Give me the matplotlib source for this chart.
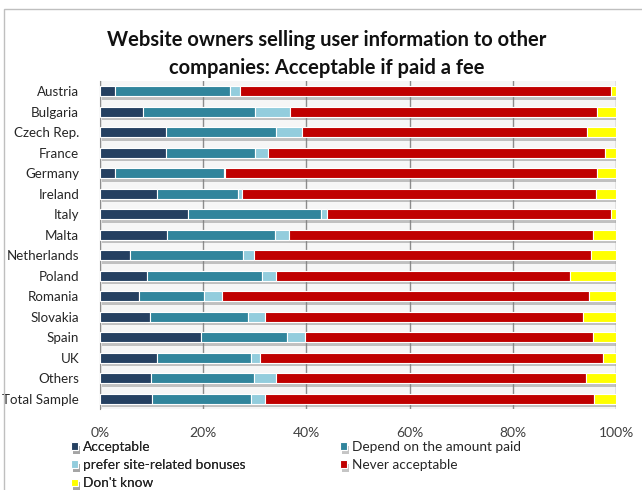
import matplotlib
matplotlib.use("Agg")
import matplotlib.pyplot as plt
import matplotlib.patheffects as pe
from matplotlib.patches import Rectangle
import numpy as np

plt.rcParams['font.family'] = ['Lato', 'DejaVu Sans']

countries = ["Austria", "Bulgaria", "Czech Rep.", "France", "Germany", "Ireland", "Italy",
             "Malta", "Netherlands", "Poland", "Romania", "Slovakia", "Spain", "UK",
             "Others", "Total Sample"]
acceptable = [3.0, 8.4, 12.7, 12.7, 3.0, 11.0, 17.0, 12.9, 5.8, 9.1, 7.6, 9.6, 19.6, 11.0, 9.9, 10.0]
depend = [22.1, 21.7, 21.5, 17.4, 21.1, 15.7, 25.8, 21.1, 22.0, 22.2, 12.6, 19.1, 16.7, 18.3, 19.9, 19.2]
bonuses = [2.0, 6.8, 4.9, 2.5, 0.2, 0.8, 1.1, 2.7, 2.0, 2.8, 3.4, 3.3, 3.5, 1.8, 4.4, 2.8]
never = [71.9, 59.5, 55.2, 65.3, 72.1, 68.6, 55.1, 58.8, 65.3, 57.0, 71.2, 61.7, 55.7, 66.4, 59.9, 63.7]
dontknow = [1.0, 3.6, 5.7, 2.1, 3.6, 3.9, 1.0, 4.5, 4.9, 8.9, 5.2, 6.3, 4.5, 2.5, 5.9, 4.3]

series_names = ["Acceptable", "Depend on the amount paid", "prefer site-related bonuses",
                "Never acceptable", "Don't know"]
series = [acceptable, depend, bonuses, never, dontknow]
colors = ["#254061", "#31859C", "#93CDDD", "#C00000", "#FFFF00"]
xticks = [0, 20, 40, 60, 80, 100]
xticklabels = ["0%", "20%", "40%", "60%", "80%", "100%"]
title = "Website owners selling user information to other\ncompanies: Acceptable if paid a fee"

fig = plt.figure(figsize=(6.42, 4.90), dpi=100)
ax = fig.add_axes([100/642, 1-409/490, 516/642, 328/490])
ax.set_facecolor("#f6f6f6")

y = np.arange(len(countries))
left = np.zeros(len(countries))
handles = []
for name, vals, c in zip(series_names, series, colors):
    vals = np.array(vals)
    bars = ax.barh(y, vals, left=left, height=0.5, color=c, edgecolor="white", linewidth=0.8,
                   label=name, zorder=3)
    for b in bars:
        b.set_path_effects([pe.SimplePatchShadow(offset=(1.5, -2.5), shadow_rgbFace="#808080", alpha=0.45),
                            pe.Normal()])
    handles.append(bars)
    left += vals

ax.set_xlim(0, 100)
ax.set_ylim(len(countries) - 0.5, -0.5)
ax.set_yticks(y)
ax.set_yticklabels(countries, fontsize=9.6, color="#262626")
ax.set_xticks(xticks)
ax.set_xticklabels(xticklabels, fontsize=10, color="#404040")
ax.tick_params(axis="y", length=0, pad=15)
ax.tick_params(axis="x", length=0, pad=13)
ax.xaxis.grid(True, color="#8c8c8c", linewidth=1, zorder=0)
ax.set_axisbelow(True)
for s in ["top", "right", "bottom"]:
    ax.spines[s].set_visible(False)
ax.spines["left"].set_color("#8c8c8c")

fig.text(327/642, 1-54/490, title, ha="center", va="center", fontsize=14.5, fontweight="bold",
         linespacing=1.5, color="#111111")

leg_kw = dict(loc="upper left", frameon=False, fontsize=9.8, handlelength=0.5, handleheight=0.5,
              handletextpad=0.4, labelspacing=0.45, borderaxespad=0, borderpad=0,
              labelcolor="#262626")
col1 = [0, 2, 4]
col2 = [1, 3]
leg1 = fig.legend([handles[i] for i in col1], [series_names[i] for i in col1],
                  bbox_to_anchor=(71/642, 1-441/490), **leg_kw)
fig.add_artist(leg1)
fig.legend([handles[i] for i in col2], [series_names[i] for i in col2],
           bbox_to_anchor=(340/642, 1-441/490), **leg_kw)

fig.patches.append(Rectangle((4/642, -0.05), 1.2, 1.05 - 9/490, transform=fig.transFigure,
                             fill=False, edgecolor="#bfbfbf", linewidth=1))

fig.savefig("out.png", dpi=100)
